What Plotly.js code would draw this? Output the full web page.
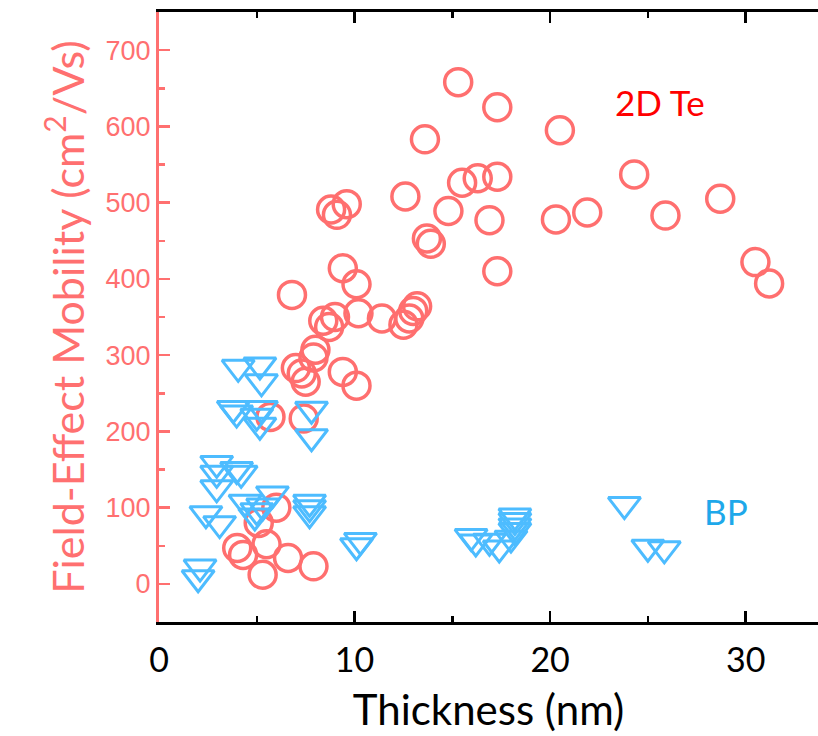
<!DOCTYPE html>
<html>
<head>
<meta charset="utf-8">
<script src="https://cdn.plot.ly/plotly-3.0.1.min.js"></script>
<style>html,body{margin:0;padding:0;background:#fff;}#chart{width:818px;height:736px;}</style>
</head>
<body>
<div id="chart"></div>
<script>
// 2D Te (circles)
const teThickness = [15.3, 17.3, 13.6, 20.5, 15.5, 16.3, 17.3, 12.6, 14.8, 24.3, 28.7, 16.9, 20.3, 21.9, 25.9, 13.7, 13.9, 17.3, 30.5, 31.2,
  8.8, 9.1, 9.6, 9.4, 10.1, 6.8, 8.4, 8.7, 9.0, 10.2, 11.4, 12.5, 12.8, 13.0, 13.2, 8.0, 7.9, 7.0, 7.3, 7.5, 9.4, 10.1,
  5.7, 7.4, 6.0, 5.1, 5.5, 4.0, 4.3, 5.3, 6.6, 7.9];
const teMobility = [658, 625, 583, 595, 526, 532, 534, 508, 489, 537, 505, 477, 478, 487, 483, 453, 446, 410, 422, 394,
  491, 484, 498, 414, 393, 379, 345, 337, 350, 355, 348, 340, 348, 358, 364, 307, 297, 283, 276, 265, 278, 260,
  219, 217, 100, 80, 52, 47, 38, 12, 34, 23];
// BP (triangles)
const bpThickness = [2.0, 2.1, 2.4, 2.95, 2.95, 2.95, 3.1, 3.97, 4.2, 4.4, 5.0, 4.9, 5.3, 5.8, 7.7, 7.7, 7.7, 7.8, 7.8,
  4.05, 5.16, 5.24, 3.8, 3.97, 5.24, 5.0, 5.16, 10.3, 10.1, 15.96, 16.2, 16.9, 17.4, 18.2, 18.2, 18.2, 18.2, 18.0,
  23.8, 25.0, 25.84];
const bpMobility = [8, 22, 92, 158, 145, 126, 79, 150, 145, 107, 96, 89, 102, 118, 107, 100, 92, 229, 193,
  284, 287, 265, 230, 224, 230, 220, 208, 57, 50, 62, 55, 56, 47, 89, 83, 76, 70, 60,
  104, 48, 46];

const xTitle = 'Thickness (nm)';
const yTitle = 'Field-Effect Mobility (cm<sup>2</sup>/Vs)';
const teLabel = '2D Te';
const bpLabel = 'BP';

const red = '#ff6f6f';
const blue = '#4dbcff';

const traces = [
  {x: teThickness, y: teMobility, mode: 'markers', type: 'scatter', name: teLabel,
   marker: {symbol: 'circle-open', size: 27, color: red, line: {width: 3.5, color: red}}},
  {x: bpThickness, y: bpMobility, mode: 'markers', type: 'scatter', name: bpLabel,
   marker: {symbol: 'triangle-down-open', size: 28, color: blue, line: {width: 3, color: blue}}}
];

const layout = {
  width: 818, height: 736,
  margin: {l: 159, r: 0, t: 12, b: 114},
  paper_bgcolor: '#fff', plot_bgcolor: '#fff',
  showlegend: false,
  xaxis: {
    range: [0, 33.7], dtick: 10, tick0: 0,
    ticks: 'inside', ticklen: 11, tickwidth: 2.5, tickcolor: '#000',
    minor: {dtick: 5, ticks: 'inside', ticklen: 6, tickwidth: 2.5, tickcolor: '#000'},
    showline: true, linecolor: '#000', linewidth: 3, mirror: 'ticks',
    showgrid: false, zeroline: false,
    ticklabelstandoff: 6,
    tickfont: {family: 'Lato, Open Sans, sans-serif', size: 34, color: '#000'},
    title: {text: xTitle, font: {family: 'Lato, Open Sans, sans-serif', size: 42, color: '#000'}, standoff: 18}
  },
  yaxis: {
    range: [-50, 750], dtick: 100, tick0: 0,
    ticks: 'inside', ticklen: 11, tickwidth: 2.5, tickcolor: '#ff7070',
    minor: {dtick: 50, ticks: 'inside', ticklen: 6, tickwidth: 2.5, tickcolor: '#ff7070'},
    showline: true, linecolor: '#ff7070', linewidth: 3, mirror: false,
    showgrid: false, zeroline: false,
    tickfont: {family: 'Liberation Sans, Arial, sans-serif', size: 27, color: '#ff7070'},
    title: {text: yTitle, font: {family: 'Lato, Open Sans, sans-serif', size: 43, color: '#ff7070'}, standoff: 8}
  },
  annotations: [
    {x: 25.6, y: 632, xref: 'x', yref: 'y', text: teLabel, showarrow: false,
     font: {family: 'Lato, Open Sans, sans-serif', size: 35, color: '#ff0000'}},
    {x: 29.0, y: 96, xref: 'x', yref: 'y', text: bpLabel, showarrow: false,
     font: {family: 'Lato, Open Sans, sans-serif', size: 35, color: '#1ea8ea'}}
  ]
};

Plotly.newPlot('chart', traces, layout, {displayModeBar: false, staticPlot: true});
</script>
</body>
</html>
